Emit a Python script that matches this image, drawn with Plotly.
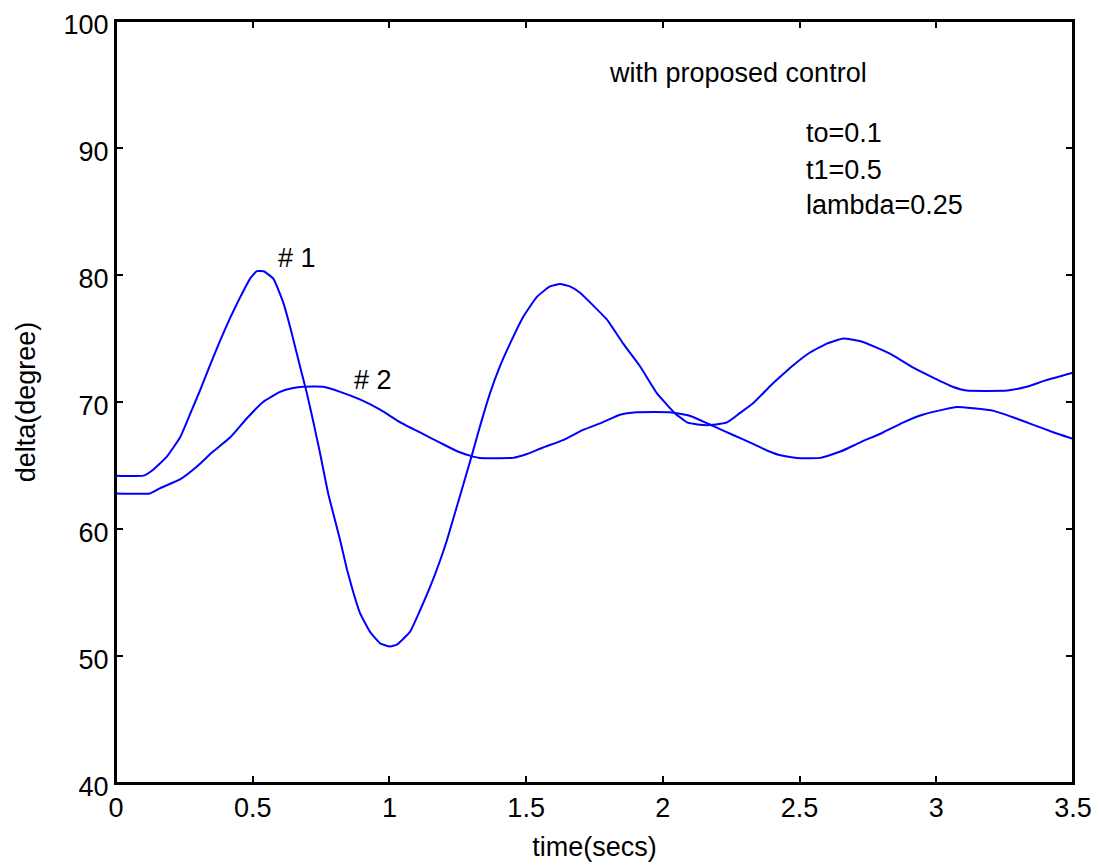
import plotly.graph_objects as go

# Machine #1 rotor angle
t1 = [0, 0.1, 0.135, 0.186, 0.234, 0.27, 0.307, 0.344, 0.38, 0.417, 0.453, 0.49, 0.515, 0.54,
      0.576, 0.612, 0.643, 0.673, 0.698, 0.72, 0.746, 0.776, 0.82, 0.845, 0.868, 0.892, 0.929,
      0.966, 1.002, 1.027, 1.075, 1.112, 1.148, 1.185, 1.21, 1.277, 1.30, 1.33, 1.368, 1.404,
      1.441, 1.489, 1.54, 1.587, 1.624, 1.66, 1.697, 1.745, 1.795, 1.855, 1.917, 1.978, 2.04,
      2.088, 2.136, 2.185, 2.235, 2.28, 2.33, 2.39, 2.43, 2.477, 2.538, 2.6, 2.66, 2.72, 2.78,
      2.84, 2.916, 2.99, 3.06, 3.11, 3.26, 3.33, 3.40, 3.5]
d1 = [64.2, 64.2, 64.65, 65.7, 67.2, 69.0, 70.9, 72.9, 74.8, 76.6, 78.2, 79.7, 80.3, 80.3,
      79.7, 77.8, 75.4, 72.8, 70.7, 68.6, 66.0, 62.8, 59.1, 56.8, 55.0, 53.4, 51.9,
      51.0, 50.75, 50.9, 51.9, 53.6, 55.4, 57.5, 59.1, 64.0, 65.7, 68.0, 70.7, 72.8,
      74.6, 76.7, 78.3, 79.1, 79.3, 79.1, 78.6, 77.6, 76.5, 74.6, 72.8, 70.7, 69.2,
      68.4, 68.2, 68.2, 68.4, 69.1, 69.9, 71.2, 72.0, 72.9, 73.9, 74.6, 75.0, 74.8, 74.3,
      73.7, 72.7, 71.9, 71.2, 70.9, 70.9, 71.2, 71.7, 72.3]

# Machine #2 rotor angle
t2 = [0, 0.124, 0.16, 0.234, 0.295, 0.355, 0.417, 0.478, 0.538, 0.6, 0.648, 0.685, 0.757,
      0.82, 0.892, 0.966, 1.04, 1.112, 1.185, 1.25, 1.306, 1.33, 1.452, 1.503, 1.56, 1.635,
      1.708, 1.78, 1.843, 1.905, 2.026, 2.1, 2.185, 2.257, 2.33, 2.39, 2.43, 2.49, 2.575,
      2.65, 2.72, 2.805, 2.88, 2.95, 3.025, 3.075, 3.135, 3.21, 3.28, 3.355, 3.43, 3.5]
d2 = [62.8, 62.8, 63.2, 63.9, 64.9, 66.1, 67.2, 68.7, 70.0, 70.8, 71.1, 71.2, 71.2,
      70.8, 70.2, 69.4, 68.4, 67.6, 66.8, 66.1, 65.7, 65.6, 65.6, 65.9, 66.4, 67.0,
      67.8, 68.4, 69.0, 69.2, 69.2, 68.9, 68.1, 67.4, 66.7, 66.1, 65.8, 65.6, 65.6,
      66.1, 66.8, 67.6, 68.4, 69.0, 69.4, 69.6, 69.5, 69.3, 68.8, 68.2, 67.6, 67.1]

x_ticks = [0, 0.5, 1, 1.5, 2, 2.5, 3, 3.5]
x_labels = ["0", "0.5", "1", "1.5", "2", "2.5", "3", "3.5"]
y_ticks = [40, 50, 60, 70, 80, 90, 100]

FONT = "Liberation Sans, Arial, sans-serif"
FS = 27

fig = go.Figure()
line_style = dict(color="#0000ff", width=2, shape="spline", smoothing=0.4)
fig.add_trace(go.Scatter(x=t1, y=d1, mode="lines", line=line_style, name="#1"))
fig.add_trace(go.Scatter(x=t2, y=d2, mode="lines", line=line_style, name="#2"))

ann = [
    dict(x=2.275, y=95.9, text="with proposed control", xanchor="center"),
    dict(x=2.516, y=91.2, text="to=0.1", xanchor="left"),
    dict(x=2.516, y=88.3, text="t1=0.5", xanchor="left"),
    dict(x=2.516, y=85.5, text="lambda=0.25", xanchor="left"),
    dict(x=0.662, y=81.3, text="# 1", xanchor="center"),
    dict(x=0.94, y=71.7, text="# 2", xanchor="center"),
]
for a in ann:
    fig.add_annotation(x=a["x"], y=a["y"], text=a["text"], xanchor=a["xanchor"], yanchor="middle",
                       showarrow=False, font=dict(family=FONT, size=FS, color="black"))

axis_common = dict(showgrid=False, zeroline=False, showline=True, linecolor="black", linewidth=2,
                   mirror="ticks", ticks="inside", ticklen=7, tickwidth=1.5, tickcolor="black",
                   ticklabeloverflow="allow", automargin=False,
                   tickfont=dict(family=FONT, size=FS, color="black"))

fig.update_xaxes(range=[0, 3.5], tickvals=x_ticks, ticktext=x_labels,
                 title=dict(text="time(secs)", font=dict(family=FONT, size=FS, color="black"), standoff=15),
                 **axis_common)
fig.update_yaxes(range=[40, 100], tickvals=y_ticks, ticklabelshift=4,
                 title=dict(text="delta(degree)", font=dict(family=FONT, size=FS, color="black"), standoff=20),
                 **axis_common)

# plot-area frame (MATLAB-style box)
fig.add_shape(type="rect", xref="paper", yref="paper", x0=0, y0=0, x1=1, y1=1,
              line=dict(color="black", width=2), fillcolor="rgba(0,0,0,0)", layer="above")

fig.update_layout(width=1099, height=867, margin=dict(l=108, r=34, t=13, b=92),
                  plot_bgcolor="white", paper_bgcolor="white", showlegend=False,
                  font=dict(family=FONT, size=FS, color="black"))

fig.write_html("out.html")
